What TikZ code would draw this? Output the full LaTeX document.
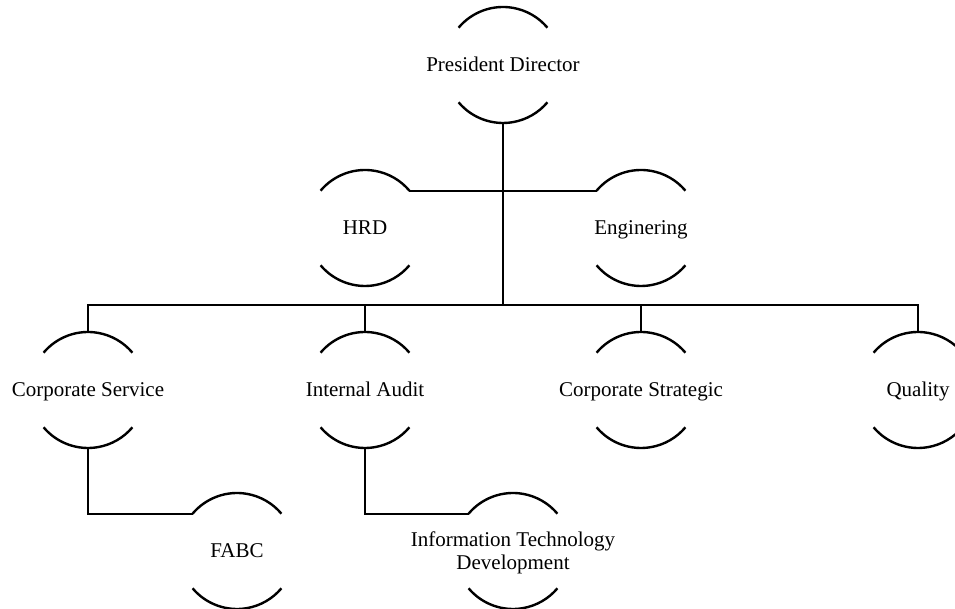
\documentclass[tikz,border=0pt]{standalone}
\usepackage{fontspec}
\setmainfont{Liberation Serif}
\usetikzlibrary{positioning}

\begin{document}
\begin{tikzpicture}[x=1pt,y=1pt,every node/.style={font=\fontsize{21}{23}\selectfont},unit/.style={align=center,inner sep=0pt,text height=18pt,text depth=4pt},link/.style={line width=2.4pt},rim/.style={line width=2.4pt}]
  \useasboundingbox (0,0) rectangle (955,609);
  \node[unit] (pd) at (503,544) {President Director};
  \node[unit] (hrd) at (365,381) {HRD};
  \node[unit] (eng) at (641,381) {Enginering};
  \node[unit] (cs) at (88,219) {Corporate Service};
  \node[unit] (ia) at (365,219) {Internal Audit};
  \node[unit] (cst) at (641,219) {Corporate Strategic};
  \node[unit] (q) at (918,219) {Quality};
  \node[unit] (fabc) at (237,58) {FABC};
  \node[unit,text height=42pt,text depth=4pt] (itd) at (513,58) {Information Technology\\Development};
  \foreach \n in {pd,hrd,eng,cs,ia,cst,q,fabc,itd}{
    \draw[rim] ([shift={(140:58)}]\n.center) coordinate (\n-tl) arc[start angle=140,end angle=40,radius=58] coordinate (\n-tr);
    \draw[rim] ([shift={(220:58)}]\n.center) coordinate (\n-bl) arc[start angle=220,end angle=320,radius=58] coordinate (\n-br);
    \coordinate (\n-top) at ([shift={(0,58)}]\n.center);
    \coordinate (\n-bot) at ([shift={(0,-58)}]\n.center);
  }
  \coordinate (bus) at (503,304);
  \draw[link] (pd-bot) -- (bus);
  \draw[link] (hrd-tr) -- (eng-tl);
  \draw[link] (cs-top) -- (cs-top |- bus) -- (q-top |- bus) -- (q-top);
  \foreach \n in {ia,cst}{\draw[link] (\n-top) -- (\n-top |- bus);}
  \draw[link] (cs-bot) |- (fabc-tl);
  \draw[link] (ia-bot) |- (itd-tl);
\end{tikzpicture}
\end{document}
